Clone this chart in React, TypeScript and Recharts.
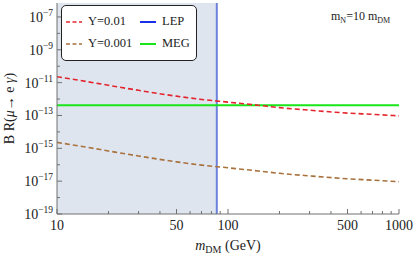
import { Label, Line, LineChart, ReferenceArea, ReferenceLine, XAxis, YAxis } from "recharts";

const masses = [10, 15, 20, 30, 50, 70, 100, 150, 200, 300, 500, 700, 1000];
const brY001 = [2.3e-11, 1.15e-11, 6.9e-12, 3.4e-12, 1.5e-12, 9.5e-13, 6.5e-13, 4.2e-13, 3.0e-13, 2.1e-13, 1.4e-13, 1.17e-13, 9.5e-14];
const brY0001 = [2.3e-15, 1.15e-15, 6.9e-16, 3.4e-16, 1.5e-16, 9.5e-17, 6.5e-17, 4.2e-17, 3.0e-17, 2.1e-17, 1.4e-17, 1.15e-17, 9.3e-18];
const MEG_LIMIT = 4.2e-13;
const LEP_LIMIT = 86;

const xTicks = [10, 20, 30, 40, 50, 60, 70, 80, 90, 100, 200, 300, 400, 500, 600, 700, 800, 900, 1000];
const xLabeled = [10, 50, 100, 500, 1000];
const yTicks = [1e-19, 1e-18, 1e-17, 1e-16, 1e-15, 1e-14, 1e-13, 1e-12, 1e-11, 1e-10, 1e-9, 1e-8, 1e-7];

const legendItems = [
  { label: "Y=0.01", color: "#e3252e", dashed: true, col: 0, row: 0 },
  { label: "Y=0.001", color: "#a8723e", dashed: true, col: 0, row: 1 },
  { label: "LEP", color: "#1a2fe8", dashed: false, col: 1, row: 0 },
  { label: "MEG", color: "#19e619", dashed: false, col: 1, row: 1 },
];

const data = masses.map((m, i) => ({ m, a: brY001[i], b: brY0001[i] }));

const FONT = '"Liberation Serif", "DejaVu Serif", serif';
const AXIS = "#707070";
const Y_TOP = Math.pow(10, -6.15);

function exp10(v: number) {
  return Math.round(Math.log10(v));
}

function BottomTick({ x, y, payload }: any) {
  const v = payload.value;
  const major = xLabeled.includes(v);
  return (
    <g>
      <line x1={x} x2={x} y1={y} y2={y - (major ? 5 : 3)} stroke={AXIS} />
      {major && (
        <text x={x} y={y + 16} textAnchor="middle" fontSize={14} fontFamily={FONT} fill="#222">
          {v}
        </text>
      )}
    </g>
  );
}

function TopTick({ x, y, payload }: any) {
  const major = xLabeled.includes(payload.value);
  return <line x1={x} x2={x} y1={y} y2={y + (major ? 5 : 3)} stroke={AXIS} />;
}

function LeftTick({ x, y, payload }: any) {
  const e = exp10(payload.value);
  const major = e % 2 !== 0;
  return (
    <g>
      <line x1={x} x2={x + (major ? 5 : 3)} y1={y} y2={y} stroke={AXIS} />
      {major && (
        <text x={x - 4} y={y + 5} textAnchor="end" fontSize={14} fontFamily={FONT} fill="#222">
          10
          <tspan dy={-6} fontSize={9.5}>
            {"\u2212" + Math.abs(e)}
          </tspan>
        </text>
      )}
    </g>
  );
}

function RightTick({ x, y, payload }: any) {
  const major = exp10(payload.value) % 2 !== 0;
  return <line x1={x} x2={x - (major ? 5 : 3)} y1={y} y2={y} stroke={AXIS} />;
}

function YTitle({ viewBox }: any) {
  const cx = 14;
  const cy = viewBox.y + viewBox.height / 2;
  return (
    <text x={cx} y={cy} transform={`rotate(-90 ${cx} ${cy})`} textAnchor="middle" fontSize={14} fontFamily={FONT} fill="#222">
      B R(<tspan fontStyle="italic">μ</tspan>→ e <tspan fontStyle="italic">γ</tspan>)
    </text>
  );
}

function XTitle({ viewBox }: any) {
  const cx = viewBox.x + viewBox.width / 2;
  return (
    <text x={cx} y={250} textAnchor="middle" fontSize={14} fontFamily={FONT} fill="#222">
      <tspan fontStyle="italic">m</tspan>
      <tspan fontSize={10} dy={3}>DM</tspan>
      <tspan dy={-3}> (GeV)</tspan>
    </text>
  );
}

function LegendBox() {
  return (
    <div
      style={{
        position: "absolute",
        left: 61,
        top: 5,
        width: 136,
        height: 56,
        border: "1px solid #222",
        borderRadius: 5,
        background: "#fff",
        fontFamily: FONT,
        fontSize: 12.5,
        boxSizing: "border-box",
      }}
    >
      {legendItems.map((it) => (
        <div
          key={it.label}
          style={{ position: "absolute", left: it.col === 0 ? 3 : 77, top: it.row === 0 ? 8 : 30, display: "flex", alignItems: "center", whiteSpace: "nowrap", color: "#222" }}
        >
          <svg width={18} height={10} style={{ marginRight: 5 }}>
            <line x1={1} x2={17} y1={5} y2={5} stroke={it.color} strokeWidth={it.dashed ? 1.5 : 2} strokeDasharray={it.dashed ? "4 2.5" : undefined} />
          </svg>
          {it.label}
        </div>
      ))}
    </div>
  );
}

export default function App() {
  return (
    <div style={{ position: "absolute", left: 0, top: 0, width: 415, height: 255, background: "#fff" }}>
      <LineChart width={415} height={255} data={data} margin={{ top: 3, right: 16, bottom: 0, left: 0 }}>
        <ReferenceArea xAxisId="b" yAxisId="l" x1={10} x2={LEP_LIMIT} y1={1e-19} y2={Y_TOP} fill="#dfe5ef" fillOpacity={1} stroke="none" ifOverflow="hidden" />
        <XAxis
          xAxisId="b"
          dataKey="m"
          type="number"
          scale="log"
          domain={[10, 1000]}
          ticks={xTicks}
          interval={0}
          tick={<BottomTick />}
          tickLine={false}
          tickSize={0}
          tickMargin={0}
          height={41}
          stroke={AXIS}
          allowDataOverflow
        >
          <Label content={<XTitle />} />
        </XAxis>
        <XAxis xAxisId="t" orientation="top" dataKey="m" type="number" scale="log" domain={[10, 1000]} ticks={xTicks} interval={0} tick={<TopTick />} tickLine={false} tickSize={0} tickMargin={0} height={0} stroke={AXIS} allowDataOverflow />
        <YAxis
          yAxisId="l"
          type="number"
          scale="log"
          domain={[1e-19, Y_TOP]}
          ticks={yTicks}
          interval={0}
          tick={<LeftTick />}
          tickLine={false}
          tickSize={0}
          tickMargin={0}
          width={57}
          stroke={AXIS}
          allowDataOverflow
        >
          <Label content={<YTitle />} />
        </YAxis>
        <YAxis yAxisId="r" orientation="right" type="number" scale="log" domain={[1e-19, Y_TOP]} ticks={yTicks} interval={0} tick={<RightTick />} tickLine={false} tickSize={0} tickMargin={0} width={0} stroke={AXIS} allowDataOverflow />
        <ReferenceLine xAxisId="b" yAxisId="l" x={LEP_LIMIT} stroke="#6c80dc" strokeWidth={2} />
        <ReferenceLine xAxisId="b" yAxisId="l" y={MEG_LIMIT} stroke="#19e619" strokeWidth={2} />
        <Line xAxisId="b" yAxisId="l" dataKey="a" type="monotone" stroke="#e3252e" strokeWidth={1.6} strokeDasharray="5 3" dot={false} isAnimationActive={false} />
        <Line xAxisId="b" yAxisId="l" dataKey="b" type="monotone" stroke="#a8723e" strokeWidth={1.6} strokeDasharray="5 3" dot={false} isAnimationActive={false} />
      </LineChart>
      <LegendBox />
      <div style={{ position: "absolute", left: 331, top: 9, fontFamily: FONT, fontSize: 12, color: "#222", whiteSpace: "nowrap" }}>
        m<sub style={{ fontSize: 8 }}>N</sub>=10 m<sub style={{ fontSize: 8 }}>DM</sub>
      </div>
    </div>
  );
}
